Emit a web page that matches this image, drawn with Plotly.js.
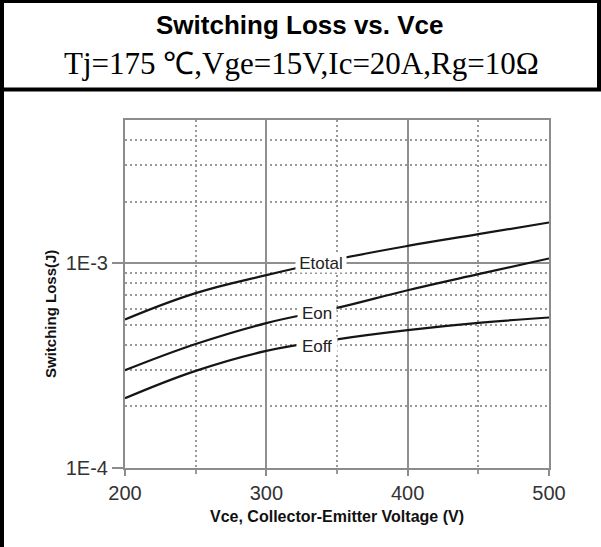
<!DOCTYPE html>
<html>
<head>
<meta charset="utf-8">
<script src="https://cdn.plot.ly/plotly-3.0.1.min.js"></script>
<style>html,body{margin:0;padding:0;background:#fff;}#chart{width:601px;height:547px;}</style>
</head>
<body>
<div id="chart"></div>
<script>
// ---- data ----
const vce = [200, 250, 300, 350, 400, 450, 500];
const eTotal = [5.31e-4, 7.14e-4, 8.74e-4, 1.045e-3, 1.214e-3, 1.385e-3, 1.58e-3];
const eOn = [3.0e-4, 4.03e-4, 5.1e-4, 6.05e-4, 7.38e-4, 8.84e-4, 1.054e-3];
const eOff = [2.19e-4, 2.98e-4, 3.73e-4, 4.25e-4, 4.71e-4, 5.11e-4, 5.43e-4];

const seriesNames = ['Etotal', 'Eon', 'Eoff'];
const labelVce = [338.6, 336.1, 335.5];
const labelLoss = [1.003e-3, 5.72e-4, 3.94e-4];

const xTickVals = [200, 300, 400, 500];
const xMinorVals = [250, 350, 450];
const yTickVals = [1e-4, 1e-3];
const yTickText = ['1E-4', '1E-3'];
const yMinorVals = [2e-4, 3e-4, 4e-4, 5e-4, 6e-4, 7e-4, 8e-4, 9e-4, 2e-3, 3e-3, 4e-3];
const yMin = 1e-4, yMax = 5e-3;

const titleText = 'Switching Loss vs. Vce';
const subtitleText = 'Tj=175 ℃,Vge=15V,Ic=20A,Rg=10Ω';
const xTitle = 'Vce, Collector-Emitter Voltage (V)';
const yTitle = 'Switching Loss(J)';

// ---- layout geometry ----
const W = 601, H = 547;
const M = {l: 125, r: 52, t: 120, b: 79};
const pw = W - M.l - M.r, ph = H - M.t - M.b;
const px = x => (x - M.l) / pw;          // pixel -> paper x
const py = y => (H - M.b - y) / ph;      // pixel -> paper y

const sans = 'Liberation Sans, Arial, sans-serif';
const serif = 'Liberation Serif, Times New Roman, serif';

const lineStyle = {color: '#151515', width: 2.2, shape: 'spline', smoothing: 1.2};
const ys = [eTotal, eOn, eOff];
const traces = ys.map((y, i) => ({
  x: vce, y: y, type: 'scatter', mode: 'lines', name: seriesNames[i],
  line: lineStyle, hoverinfo: 'x+y+name'
}));

const labelWidths = [50, 38, 40];
const annotations = seriesNames.map((n, i) => ({
  x: labelVce[i], y: Math.log10(labelLoss[i]), xref: 'x', yref: 'y',
  text: n, showarrow: false, bgcolor: '#ffffff', borderpad: 0,
  width: labelWidths[i], height: 18,
  font: {family: sans, size: 17, color: '#222'}
}));
annotations.push({
  x: px(300), y: py(25), xref: 'paper', yref: 'paper', showarrow: false,
  text: '<b>' + titleText + '</b>', font: {family: sans, size: 26, color: '#000'},
  xanchor: 'center', yanchor: 'middle'
});
annotations.push({
  x: px(301), y: py(64), xref: 'paper', yref: 'paper', showarrow: false,
  text: subtitleText, font: {family: serif, size: 31, color: '#000'},
  xanchor: 'center', yanchor: 'middle'
});
annotations.push({
  x: px(50), y: py(314), xref: 'paper', yref: 'paper', showarrow: false,
  text: '<b>' + yTitle + '</b>', textangle: -90,
  font: {family: sans, size: 15, color: '#111'},
  xanchor: 'center', yanchor: 'middle'
});

const border = '#000';
const shapes = [
  {type: 'line', xref: 'paper', yref: 'paper', x0: px(0), x1: px(W), y0: py(1.5), y1: py(1.5), line: {color: border, width: 3}},
  {type: 'line', xref: 'paper', yref: 'paper', x0: px(2), x1: px(2), y0: py(0), y1: py(H), line: {color: border, width: 4}},
  {type: 'line', xref: 'paper', yref: 'paper', x0: px(599), x1: px(599), y0: py(0), y1: py(90), line: {color: border, width: 4}},
  {type: 'line', xref: 'paper', yref: 'paper', x0: px(0), x1: px(W), y0: py(89.5), y1: py(89.5), line: {color: border, width: 4}}
];

const axisColor = '#8c8c8c';
const dotGrid = '2px,3px';
const layout = {
  width: W, height: H, margin: M,
  paper_bgcolor: '#fff', plot_bgcolor: '#fff',
  showlegend: false,
  xaxis: {
    range: [200, 500], tickmode: 'array', tickvals: xTickVals,
    ticks: 'outside', ticklen: 6, tickwidth: 1.5, tickcolor: axisColor,
    showline: true, mirror: true, linecolor: axisColor, linewidth: 2,
    showgrid: true, gridcolor: '#8f8f8f', gridwidth: 1.5, zeroline: false,
    tickfont: {family: sans, size: 20, color: '#333'},
    minor: {tickmode: 'array', tickvals: xMinorVals, ticks: 'outside', ticklen: 4, tickcolor: '#999',
            showgrid: true, gridcolor: '#999', gridwidth: 1.5, griddash: dotGrid},
    title: {text: '<b>' + xTitle + '</b>', font: {family: sans, size: 16, color: '#111'}, standoff: 8}
  },
  yaxis: {
    type: 'log', range: [Math.log10(yMin), Math.log10(yMax)],
    tickmode: 'array', tickvals: yTickVals, ticktext: yTickText,
    ticks: 'outside', ticklen: 11, tickwidth: 1.5, tickcolor: axisColor,
    showline: true, mirror: true, linecolor: axisColor, linewidth: 2,
    showgrid: true, gridcolor: '#8f8f8f', gridwidth: 1.5, zeroline: false,
    tickfont: {family: sans, size: 20, color: '#333'},
    minor: {tickmode: 'array', tickvals: yMinorVals, ticks: '', showgrid: true,
            gridcolor: '#999', gridwidth: 1.5, griddash: dotGrid}
  },
  annotations: annotations,
  shapes: shapes
};

Plotly.newPlot('chart', traces, layout, {displayModeBar: false, responsive: false});
</script>
</body>
</html>
